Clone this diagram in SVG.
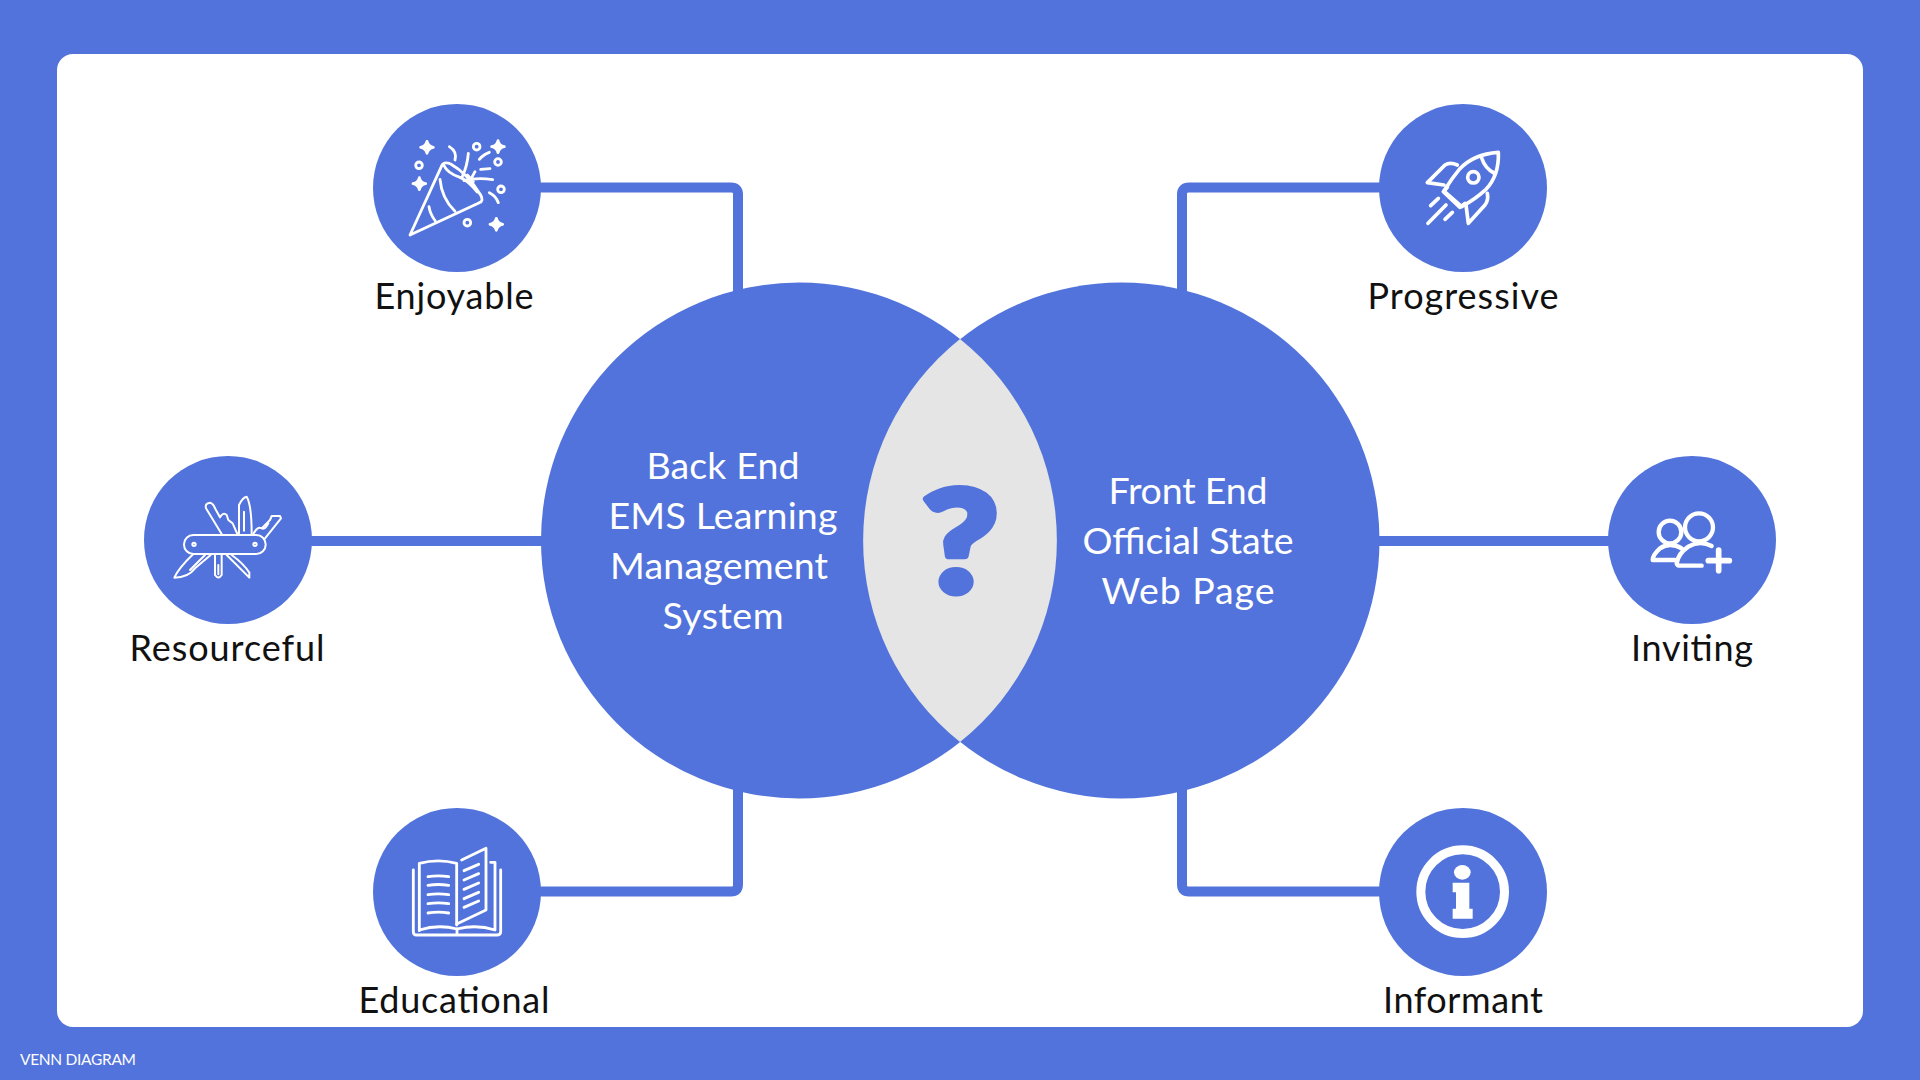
<svg xmlns="http://www.w3.org/2000/svg" width="1920" height="1080" viewBox="0 0 1920 1080">
<style>
.lbl{font-family:"Lato","Noto Sans",sans-serif;font-size:36px;fill:#111;text-anchor:middle}
.in{font-family:"Lato","Noto Sans",sans-serif;font-size:37.500px;fill:#fff;text-anchor:middle}
.big{fill:#5273db}
.nd{fill:#5273db}
.ic{fill:none;stroke:#fff;stroke-linecap:round;stroke-linejoin:round}
.con{fill:none;stroke:#5273db;stroke-width:10}
</style>
<rect width="1920" height="1080" fill="#5273db"/>
<rect x="57" y="54" width="1806" height="973" rx="16" fill="#fff"/>
<g id="connectors">
<path class="con" d="M535 187.500H731Q738 187.500 738 194.500V300"/>
<path class="con" d="M1385 187.500H1189Q1182 187.500 1182 194.500V300"/>
<path class="con" d="M300 541H550"/>
<path class="con" d="M1370 541H1620"/>
<path class="con" d="M535 891.500H731Q738 891.500 738 884.500V780"/>
<path class="con" d="M1385 891.500H1189Q1182 891.500 1182 884.500V780"/>
</g>
<g id="venn-left">
<circle class="big" cx="799" cy="540.500" r="258"/>
<text class="in" x="723" y="479" textLength="153">Back End</text>
<text class="in" x="723" y="529" textLength="229">EMS Learning</text>
<text class="in" x="719" y="579" textLength="218">Management</text>
<text class="in" x="723" y="629" textLength="121">System</text>
</g>
<g id="venn-right">
<circle class="big" cx="1121.500" cy="540.500" r="258"/>
<text class="in" x="1188" y="504" textLength="159">Front End</text>
<text class="in" x="1188" y="554" textLength="211">Official State</text>
<text class="in" x="1188" y="604" textLength="173">Web Page</text>
</g>
<g id="venn-overlap">
<path d="M960 339A258 258 0 0 1 960 742A258 258 0 0 1 960 339Z" fill="#e5e5e5"/>
<text transform="translate(960 592) scale(1.17 1)" font-family="Lato,'Noto Sans',sans-serif" font-weight="900" font-size="142" fill="#5273db" stroke="#5273db" stroke-width="7" stroke-linejoin="round" text-anchor="middle">?</text>
</g>
<g id="node-enjoyable">
<circle class="nd" cx="457" cy="188" r="84"/>
<g class="ic" transform="translate(360 90) scale(.33333)" stroke-width="8.500">
<path d="M150 435L243 232Q250 212 272 222Q322 250 362 315Q372 333 358 338Z"/>
<path d="M207 350Q210 372 226 393M240 268Q245 325 285 364M251 225Q262 250 300 262Q325 272 352 306"/>
<path d="M325 190Q322 228 306 262M268 170Q292 185 285 210M312 272Q350 262 398 269M322 255L340 275M345 245L330 272M362 238L390 236M358 208Q368 195 388 187M388 308Q408 318 415 338"/>
<circle cx="350" cy="170" r="10"/><circle cx="414" cy="216" r="10"/><circle cx="423" cy="298" r="10"/><circle cx="177" cy="226" r="10"/><circle cx="322" cy="398" r="10"/>
<path d="M201 154Q204 169 220 172Q204 175 201 190Q198 175 182 172Q198 169 201 154Z" fill="#fff"/>
<path d="M414 152Q417 167 433 170Q417 173 414 188Q411 173 395 170Q411 167 414 152Z" fill="#fff"/>
<path d="M178 263Q181 278 197 281Q181 284 178 299Q175 284 159 281Q175 278 178 263Z" fill="#fff"/>
<path d="M409 385Q412 400 428 403Q412 406 409 421Q406 406 390 403Q406 400 409 385Z" fill="#fff"/>
</g>
<text class="lbl" x="454" y="309" textLength="159">Enjoyable</text>
</g>
<g id="node-progressive">
<circle class="nd" cx="1463" cy="188" r="84"/>
<g class="ic" transform="translate(1370 90) scale(.33333)" stroke-width="11">
<path d="M385 187Q310 192 268 238Q245 265 222 303L275 350Q315 328 348 298Q388 255 385 187Z"/>
<path d="M335 204Q345 235 372 249"/>
<circle cx="310" cy="262" r="17"/>
<path d="M232 292L220 305L270 352L285 340"/>
<path d="M262 225Q240 215 225 225L172 278L222 285"/>
<path d="M352 310Q356 330 345 345L295 400L288 345"/>
<path d="M182 347L205 325M174 400L228 345M225 388L247 367"/>
</g>
<text class="lbl" x="1463" y="309" textLength="191">Progressive</text>
</g>
<g id="node-resourceful">
<circle class="nd" cx="228" cy="540" r="84"/>
<g class="ic" transform="translate(130 440) scale(.33333)" stroke-width="6">
<rect x="162" y="285" width="245" height="57" rx="28"/>
<circle cx="192" cy="313" r="5"/><circle cx="375" cy="313" r="5"/>
<path d="M327 282V195Q338 172 350 170Q365 195 365 282M342 215V272"/>
<path d="M275 282L228 205Q224 190 240 188Q250 190 255 205L270 232Q280 215 290 225L295 240L308 250L322 282"/>
<path d="M370 282Q382 258 395 265L420 240L425 228L450 228L453 235L405 295M395 265Q405 270 415 250"/>
<path d="M190 342Q145 385 133 413Q175 412 195 385L242 345M180 390L225 345"/>
<path d="M255 345V405Q265 420 275 405V345M265 375V403"/>
<path d="M290 345L358 413V398Q340 370 305 345"/>
</g>
<text class="lbl" x="227" y="661" textLength="195">Resourceful</text>
</g>
<g id="node-inviting">
<circle class="nd" cx="1692" cy="540" r="84"/>
<g class="ic" transform="translate(1600 450) scale(.33333)" stroke-width="13">
<circle cx="297" cy="232" r="42"/><circle cx="210" cy="246" r="34"/>
<path d="M335 288Q300 270 265 290Q235 310 230 340Q232 347 240 347H305"/>
<path d="M245 295Q210 275 180 295Q158 315 158 330H225"/>
<path d="M325 332H388M356 300V362" stroke-width="17"/>
</g>
<text class="lbl" x="1692" y="661" textLength="122">Inviting</text>
</g>
<g id="node-educational">
<circle class="nd" cx="457" cy="892" r="84"/>
<g class="ic" transform="translate(360 800) scale(.33333)" stroke-width="8.500">
<path d="M178 392V190Q235 175 290 190V375"/>
<path d="M305 180L378 145V330L290 372"/>
<path d="M392 187H405V390Q350 372 291 387Q235 372 178 390"/>
<path d="M160 210V395Q160 405 170 405H410Q422 405 422 395V210M291 387V405"/>
<path d="M204 230Q235 225 266 230M204 256Q235 251 266 256M204 284Q235 279 266 284M204 311Q235 306 266 311M204 339Q235 334 266 339"/>
<path d="M312 212L356 193M312 240L356 221M312 268L356 249M312 296L356 277M312 322L356 303"/>
</g>
<text class="lbl" x="454" y="1013" textLength="191">Educational</text>
</g>
<g id="node-informant">
<circle class="nd" cx="1463" cy="892" r="84"/>
<g transform="translate(1370 800) scale(.33333)">
<circle cx="278" cy="275" r="125.500" fill="none" stroke="#fff" stroke-width="27"/>
<ellipse cx="277" cy="217" rx="25" ry="22" fill="#fff"/>
<path d="M248 248H298V326H308V356H248V326H258V277H248Z" fill="#fff"/>
</g>
<text class="lbl" x="1463" y="1013" textLength="160">Informant</text>
</g>
<text x="20" y="1065" font-family="Lato,'Noto Sans',sans-serif" font-size="15.500" fill="#fff" textLength="116">VENN DIAGRAM</text>
</svg>
